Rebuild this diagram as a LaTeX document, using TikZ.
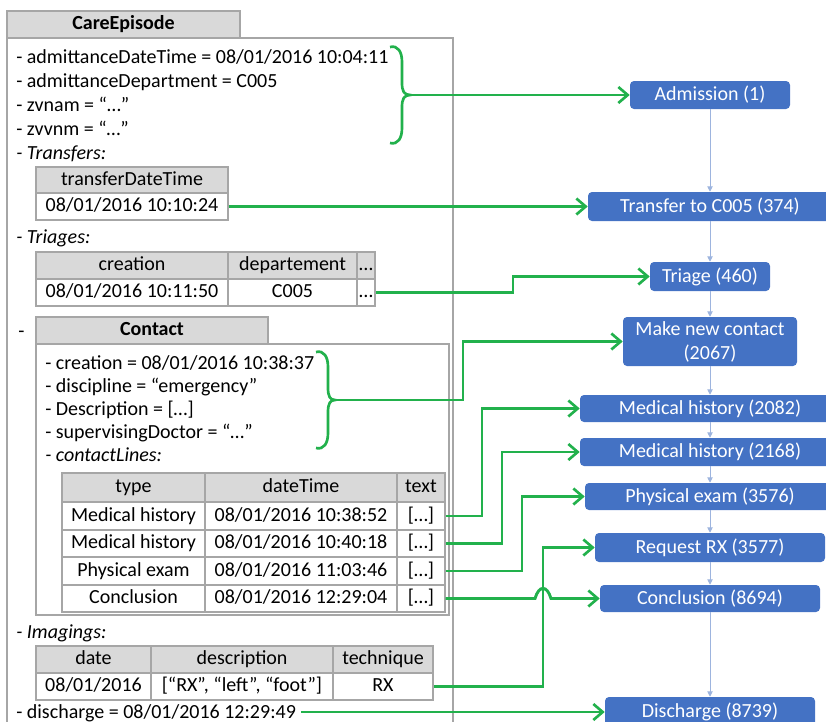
\documentclass[tikz,border=0pt]{standalone}
\usepackage{fontspec}
\setmainfont{Carlito}
\usetikzlibrary{arrows.meta}
\definecolor{greenc}{HTML}{22B14C}
\definecolor{evblue}{HTML}{4472C4}
\definecolor{hgray}{HTML}{D9D9D9}
\definecolor{bgray}{HTML}{A6A6A6}
\definecolor{flowc}{HTML}{9DB4DE}
\newcommand\fs{\fontsize{15}{18}\selectfont}
\newcommand\cellnode[7]{\node[#1, minimum width={(#5-#3)*0.75pt}, minimum height={(#6-#4)*0.75pt}] (#2) at ({(#3+#5)/2},{(#4+#6)/2}) {#7};}
\tikzset{
  txt/.style={anchor=base west, inner sep=0pt, font=\fs},
  hcell/.style={draw=bgray, fill=hgray, line width=0.9pt, inner sep=0pt, font=\fs, text height=10pt, text depth=2.5pt},
  dcell/.style={draw=bgray, fill=white, line width=0.9pt, inner sep=0pt, font=\fs, text height=10pt, text depth=2.5pt},
  outerbox/.style={draw=bgray, fill=white, line width=0.9pt, inner sep=0pt},
  evt/.style={fill=evblue, rounded corners=3pt, text=white, inner sep=0pt, font=\fs, align=center},
  gpath/.style={draw=greenc, line width=2.2pt},
  garrow/.style={gpath, -{Straight Barb[length=7pt,width=12pt,line width=2pt]}},
  flow/.style={draw=flowc, line width=0.7pt, -{Triangle[length=4pt,width=4pt]}}
}
\begin{document}
\begin{tikzpicture}[x=0.75pt,y=-0.75pt]
\path[use as bounding box] (0,0) rectangle (826,722);
\clip (0,0) rectangle (826,722);
% CareEpisode box
\cellnode{outerbox}{ce}{7}{38}{453}{760}{}
\cellnode{hcell}{cetab}{7}{11}{240}{38}{\bfseries CareEpisode}
\node[txt] (l1) at (16,63) {- admittanceDateTime = 08/01/2016 10:04:11};
\node[txt] (l2) at (16,87) {- admittanceDepartment = C005};
\node[txt] (l3) at (16,111) {- zvnam = “…”};
\node[txt] (l4) at (16,135) {- zvvnm = “…”};
\node[txt] (l5) at (16,159) {\itshape - Transfers:};
% transfers table
\cellnode{hcell}{trh}{36}{167}{228}{193}{transferDateTime}
\cellnode{dcell}{trr}{36}{193}{228}{220}{08/01/2016 10:10:24}
\node[txt] (l6) at (16,243) {\itshape - Triages:};
% triages table
\cellnode{hcell}{tgh1}{36}{252}{228}{279}{creation}
\cellnode{hcell}{tgh2}{228}{252}{357}{279}{departement}
\cellnode{hcell}{tgh3}{357}{252}{375}{279}{…}
\cellnode{dcell}{tgr1}{36}{279}{228}{306}{08/01/2016 10:11:50}
\cellnode{dcell}{tgr2}{228}{279}{357}{306}{C005}
\cellnode{dcell}{tgr3}{357}{279}{375}{306}{…}
% contact
\node[txt] (cdash) at (18,337) {-};
\cellnode{outerbox}{cbox}{36}{344}{449}{615}{}
\cellnode{hcell}{ctab}{36}{317}{268}{344}{\bfseries Contact}
\node[txt] (k1) at (45,369) {- creation = 08/01/2016 10:38:37};
\node[txt] (k2) at (45,392) {- discipline = “emergency”};
\node[txt] (k3) at (45,415) {- Description = […]};
\node[txt] (k4) at (45,438) {- supervisingDoctor = “…”};
\node[txt] (k5) at (45,461) {\itshape - contactLines:};
% contact lines table
\cellnode{hcell}{clh1}{62}{473}{205}{502}{type}
\cellnode{hcell}{clh2}{205}{473}{397}{502}{dateTime}
\cellnode{hcell}{clh3}{397}{473}{445}{502}{text}
\cellnode{dcell}{c1a}{62}{502}{205}{530}{Medical history}
\cellnode{dcell}{c1b}{205}{502}{397}{530}{08/01/2016 10:38:52}
\cellnode{dcell}{c1t}{397}{502}{445}{530}{[…]}
\cellnode{dcell}{c2a}{62}{530}{205}{557}{Medical history}
\cellnode{dcell}{c2b}{205}{530}{397}{557}{08/01/2016 10:40:18}
\cellnode{dcell}{c2t}{397}{530}{445}{557}{[…]}
\cellnode{dcell}{c3a}{62}{557}{205}{585}{Physical exam}
\cellnode{dcell}{c3b}{205}{557}{397}{585}{08/01/2016 11:03:46}
\cellnode{dcell}{c3t}{397}{557}{445}{585}{[…]}
\cellnode{dcell}{c4a}{62}{585}{205}{612}{Conclusion}
\cellnode{dcell}{c4b}{205}{585}{397}{612}{08/01/2016 12:29:04}
\cellnode{dcell}{c4t}{397}{585}{445}{612}{[…]}
% imagings
\node[txt] (l7) at (16,638) {\itshape - Imagings:};
\cellnode{hcell}{imh1}{36}{646}{151}{673}{date}
\cellnode{hcell}{imh2}{151}{646}{333}{673}{description}
\cellnode{hcell}{imh3}{333}{646}{433}{673}{technique}
\cellnode{dcell}{imr1}{36}{673}{151}{700}{08/01/2016}
\cellnode{dcell}{imr2}{151}{673}{333}{700}{[“RX”, “left”, “foot”]}
\cellnode{dcell}{imr3}{333}{673}{433}{700}{RX}
\node[txt] (disc) at (16,718) {- discharge = 08/01/2016 12:29:49};
% event boxes
\cellnode{evt}{adm}{630}{81}{790}{109}{Admission (1)}
\cellnode{evt}{tr}{588}{192}{832}{221}{Transfer to C005 (374)}
\cellnode{evt}{tri}{650}{262}{770}{291}{Triage (460)}
\cellnode{evt}{mnc}{623}{317}{797}{366}{Make new contact\\(2067)}
\cellnode{evt}{mh1}{580}{395}{840}{422}{Medical history (2082)}
\cellnode{evt}{mh2}{580}{438}{840}{466}{Medical history (2168)}
\cellnode{evt}{pe}{585}{483}{835}{510}{Physical exam (3576)}
\cellnode{evt}{rx}{595}{533}{825}{562}{Request RX (3577)}
\cellnode{evt}{con}{600}{585}{820}{612}{Conclusion (8694)}
\cellnode{evt}{dis}{605}{697}{815}{727}{Discharge (8739)}
% flow arrows
\draw[flow] (adm) -- (tr);
\draw[flow] (tr) -- (tri);
\draw[flow] (tri) -- (mnc);
\draw[flow] (mnc) -- (mh1);
\draw[flow] (mh1) -- (mh2);
\draw[flow] (mh2) -- (pe);
\draw[flow] (pe) -- (rx);
\draw[flow] (rx) -- (con);
\draw[flow] (con) -- (dis);
% braces
\draw[gpath, line width=2pt] (390,47) .. controls (398,45) and (402,52) .. (402,62) -- (402,83) .. controls (402,91) and (404,95) .. (410,95) .. controls (404,95) and (402,99) .. (402,107) -- (402,128) .. controls (402,138) and (398,145) .. (390,143);
\coordinate (b1) at (410,95);
\draw[gpath, line width=2pt] (316,352) .. controls (324,350) and (328,357) .. (328,367) -- (328,388) .. controls (328,396) and (330,400) .. (335,400) .. controls (330,400) and (328,404) .. (328,412) -- (328,433) .. controls (328,443) and (324,450) .. (316,448);
\coordinate (b2) at (335,400);
% green connectors
\draw[garrow] (b1) -- (adm.west);
\draw[garrow] (trr.east) -- (tr.west);
\draw[garrow] (tgr3.east) -- (513,292.5) |- (tri.west);
\draw[garrow] (b2) -- (463,400) |- (mnc.west);
\draw[garrow] (c1t.east) -- (482,516) |- (mh1.west);
\draw[garrow] (c2t.east) -- (502,543.5) |- (mh2.west);
\draw[garrow] (c3t.east) -- (522,571) |- (pe.west);
\draw[garrow] (imr3.east) -- (543,686.5) |- (rx.west);
\draw[garrow] (c4t.east) -- (535,598.5) .. controls (539,585) and (547,585) .. (551,598.5) -- (con.west);
\draw[garrow] ([xshift=4pt]dis.west -| disc.east) -- (dis.west);
\end{tikzpicture}
\end{document}
